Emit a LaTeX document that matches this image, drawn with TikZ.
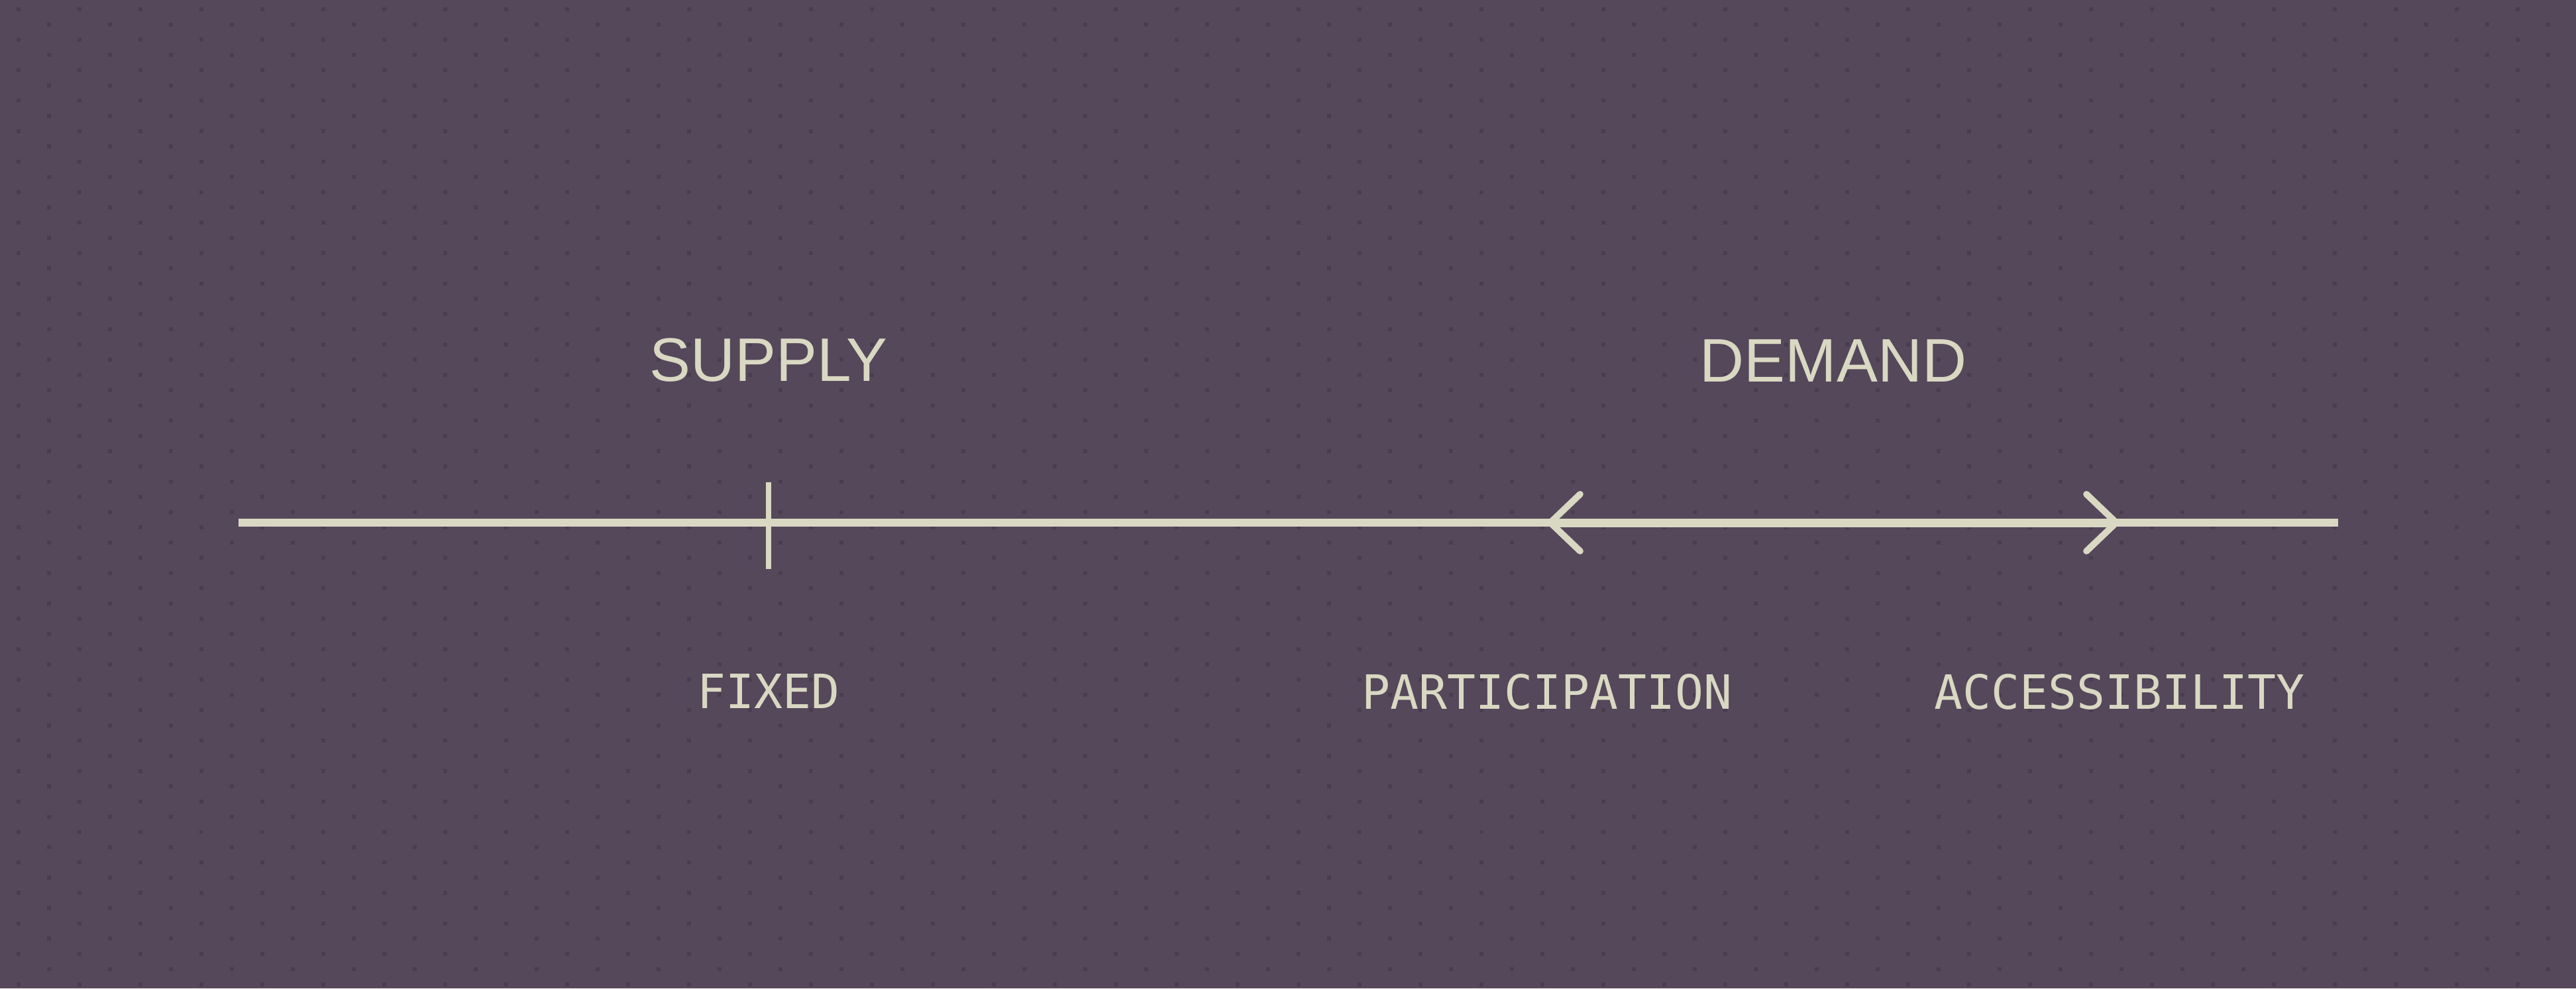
\documentclass[tikz,border=0pt]{standalone}
\usepackage{fontspec}
\setmainfont{Liberation Sans}
\newfontfamily\monofont{DejaVu Sans Mono}
\usepackage{xcolor}
\usepackage{tikz}
\usetikzlibrary{arrows.meta,calc,positioning}
\definecolor{bgplum}{HTML}{54485A}
\definecolor{dotplum}{HTML}{493D4F}
\definecolor{cream}{HTML}{D9D8C3}

\begin{document}
\begin{tikzpicture}[>={Straight Barb[length=0.45cm,width=0.86cm,line width=2.8pt,round]},
  heading/.style={inner sep=0pt,text=cream,font=\fontsize{26.4}{30}\selectfont},
  monolabel/.style={inner sep=0pt,text=cream,font=\monofont\fontsize{20.3}{22}\selectfont}]
\useasboundingbox (0,0) rectangle (38.88,-14.92);
\clip (0,0) rectangle (38.88,-14.92);
\fill[bgplum] (0,0) rectangle (38.88,-14.92);
% dotted backdrop
\foreach \r in {0,...,64}{
  \pgfmathsetmacro{\off}{mod(\r,2)*0.46}
  \foreach \c in {0,...,42}{
    \fill[dotplum] ({0.25+\off+0.92*\c},{-0.11-0.23*\r}) rectangle ++(0.06,-0.06);
  }
}
\coordinate (left) at (3.60,-7.89);
\coordinate (right) at (35.29,-7.89);
\coordinate (fixed) at (11.60,-7.89);
\coordinate (part) at (23.35,-7.89);
\coordinate (acc) at (31.99,-7.89);
\coordinate (mid) at ($(part)!0.5!(acc)$);
\draw[cream,line width=3.4pt] (left)--(right);
\draw[cream,line width=2.3pt] ($(fixed)+(0,0.61)$)--($(fixed)+(0,-0.70)$);
\draw[cream,line width=3.7pt,<->] (part)--(acc);
\node[heading,above=2.12cm of fixed] (supply) {SUPPLY};
\node[heading,above=2.12cm of mid] (demand) {DEMAND};
\node[monolabel,below=2.28cm of fixed] (fixedlbl) {FIXED};
\node[monolabel,below=2.28cm of part] (partlbl) {PARTICIPATION};
\node[monolabel,below=2.28cm of acc] (acclbl) {ACCESSIBILITY};
\end{tikzpicture}
\end{document}
